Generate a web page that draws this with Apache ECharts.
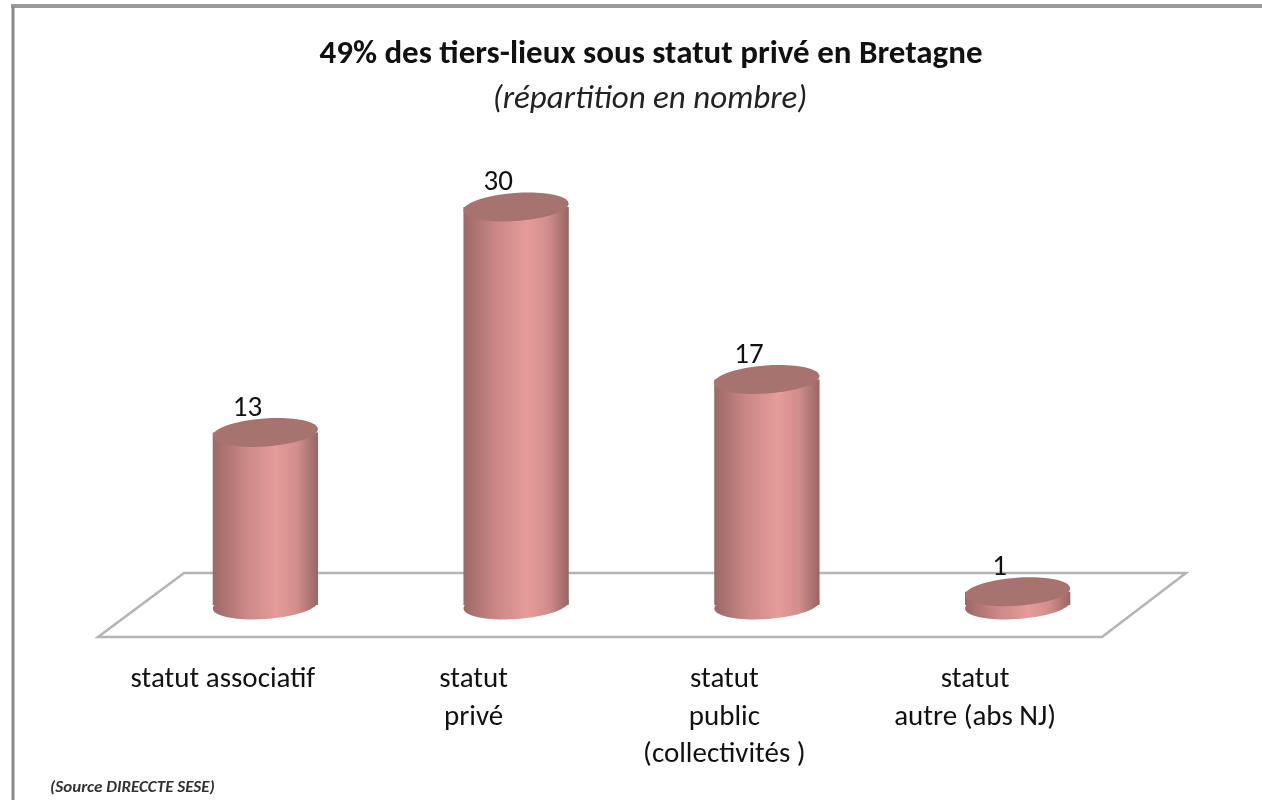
<!DOCTYPE html>
<html>
<head>
<meta charset="utf-8">
<script src="https://cdn.jsdelivr.net/npm/echarts@6/dist/echarts.min.js"></script>
<style>html,body{margin:0;padding:0;background:#fff}#c{width:1262px;height:800px}</style>
</head>
<body>
<div id="c"></div>
<script>
const categories = ['statut associatif', 'statut\nprivé', 'statut\npublic\n(collectivités )', 'statut\nautre (abs NJ)'];
const values = [13, 30, 17, 1];
const titleText = '49% des tiers-lieux sous statut privé en Bretagne';
const subtitleText = '(répartition en nombre)';
const sourceText = '(Source DIRECCTE SESE)';

const FONT = 'Carlito, "Liberation Sans Narrow", "Liberation Sans", "Open Sans", sans-serif';
const chart = echarts.init(document.getElementById('c'));

const bodyGrad = () => new echarts.graphic.LinearGradient(0, 0, 1, 0, [
  {offset: 0, color: '#9c6866'},
  {offset: 0.3, color: '#c98785'},
  {offset: 0.6, color: '#e59c9a'},
  {offset: 0.8, color: '#d18e8c'},
  {offset: 1, color: '#986562'}
]);

function renderItem(params, api) {
  const top = api.coord([api.value(0), api.value(1)]);
  const base = api.coord([api.value(0), 0]);
  const bw = api.size([1, 0])[0];
  const rx = bw * 0.21, ry = 14;
  const cx = top[0];
  const rot = 0.07;
  return {
    type: 'group',
    children: [
      {type: 'ellipse', shape: {cx: cx, cy: base[1], rx: rx, ry: ry}, rotation: rot, originX: cx, originY: base[1],
        style: {fill: bodyGrad()}},
      {type: 'rect', shape: {x: cx - rx, y: top[1], width: rx * 2, height: base[1] - top[1]},
        style: {fill: bodyGrad()}},
      {type: 'ellipse', shape: {cx: cx, cy: top[1], rx: rx, ry: ry}, rotation: rot, originX: cx, originY: top[1],
        style: {fill: '#a6736f'}},
      {type: 'text', x: cx - 18, y: top[1] - 24,
        style: {text: String(api.value(1)), fontSize: 29, fontFamily: FONT, fill: '#111', align: 'center', verticalAlign: 'middle'}}
    ]
  };
}

chart.setOption({
  backgroundColor: '#fff',
  animation: false,
  title: [
    {text: titleText, left: 646, textAlign: 'center', top: 33, textStyle: {fontSize: 33, fontWeight: 'bold', fontFamily: FONT, color: '#111'}},
    {text: subtitleText, left: 645, textAlign: 'center', top: 78, textStyle: {fontSize: 33, fontStyle: 'italic', fontWeight: 'normal', fontFamily: FONT, color: '#222'}}
  ],
  grid: {left: 140, right: 119, top: 207, bottom: 195},
  xAxis: {
    type: 'category', data: categories,
    axisLine: {show: false}, axisTick: {show: false}, splitLine: {show: false},
    axisLabel: {margin: 56, fontSize: 29, lineHeight: 37.5, fontFamily: FONT, color: '#111', padding: [0, 85, 0, 0], interval: 0}
  },
  yAxis: {type: 'value', min: 0, max: 30, show: false},
  graphic: [
    {type: 'polygon', z: 0, shape: {points: [[98, 637], [184, 573], [1186, 573], [1102, 637]]},
      style: {fill: 'none', stroke: '#b4b4b4', lineWidth: 2.5}},
    {type: 'line', shape: {x1: 11, y1: 6, x2: 1262, y2: 6}, style: {stroke: '#9a9a9a', lineWidth: 4}},
    {type: 'line', shape: {x1: 13, y1: 6, x2: 13, y2: 800}, style: {stroke: '#8a8a8a', lineWidth: 3}},
    {type: 'text', left: 50, top: 779, style: {text: sourceText, fontSize: 17, fontStyle: 'italic', fontWeight: 'bold', fontFamily: FONT, fill: '#333'}}
  ],
  series: [{
    type: 'custom', renderItem: renderItem, z: 5,
    data: values.map((v, i) => [i, v])
  }]
});
</script>
</body>
</html>
